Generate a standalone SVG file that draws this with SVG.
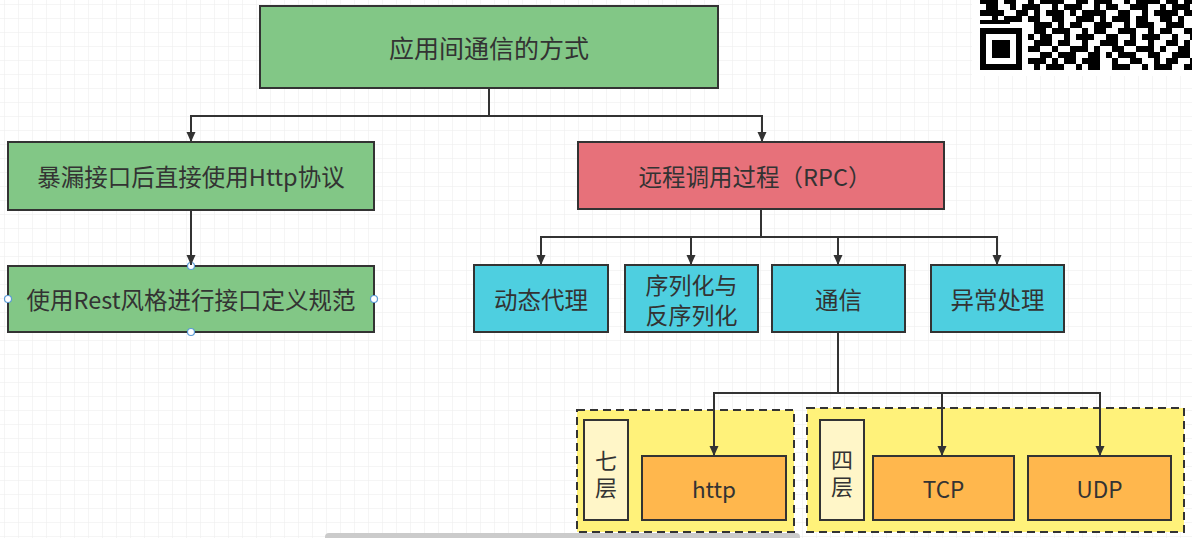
<svg xmlns="http://www.w3.org/2000/svg" width="1192" height="538" viewBox="0 0 1192 538">
<style>
.t{font-family:"Noto Sans CJK SC","Noto Sans",sans-serif;fill:#333;text-anchor:middle;dominant-baseline:central}
.n{stroke:#333;stroke-width:2}
.e{fill:none;stroke:#333;stroke-width:2}
.g{fill:#82c786}
.r{fill:#e7717a}
.b{fill:#4ecfe0}
.o{fill:#ffb74d}
.c{fill:#fff6c8}
.y{fill:#fff27a;stroke:#333;stroke-width:2;stroke-dasharray:8 5}
.h{fill:#fff;stroke:#5b9bd5;stroke-width:1.2}
</style>
<defs>
<pattern id="grid" width="14" height="14" patternUnits="userSpaceOnUse" x="4" y="4">
<path d="M0,0H14M0,0V14" fill="none" stroke="#ececec" stroke-width="1"/>
</pattern>
<marker id="arr" markerWidth="10" markerHeight="10" refX="10" refY="4.5" orient="auto" markerUnits="userSpaceOnUse">
<path d="M0,0L10,4.5L0,9z" fill="#333"/>
</marker>
</defs>
<rect width="1192" height="538" fill="#fff"/>
<rect width="1192" height="538" fill="url(#grid)"/>

<g id="qr">
<rect x="972" y="0" width="220" height="76" fill="#fff"/>
<path fill="#000" d="M980,-2h18v6h-18zM1004,-2h12v6h-12zM1028,-2h6v6h-6zM1040,-2h24v6h-24zM1076,-2h12v6h-12zM1094,-2h18v6h-18zM1124,-2h6v6h-6zM1136,-2h24v6h-24zM1166,-2h12v6h-12zM1184,-2h12v6h-12z
M986,4h12v6h-12zM1010,4h6v6h-6zM1022,4h18v6h-18zM1052,4h6v6h-6zM1064,4h18v6h-18zM1094,4h6v6h-6zM1106,4h12v6h-12zM1130,4h18v6h-18zM1160,4h6v6h-6zM1172,4h18v6h-18z
M980,10h24v6h-24zM1016,10h12v6h-12zM1034,10h6v6h-6zM1046,10h18v6h-18zM1070,10h6v6h-6zM1082,10h24v6h-24zM1118,10h12v6h-12zM1142,10h6v6h-6zM1154,10h24v6h-24zM1184,10h12v6h-12z
M992,16h6v6h-6zM1004,16h18v6h-18zM1028,16h12v6h-12zM1052,16h12v6h-12zM1076,16h18v6h-18zM1100,16h6v6h-6zM1112,16h18v6h-18zM1136,16h12v6h-12zM1160,16h12v6h-12zM1178,16h6v6h-6z
M980,20h30v4h-30zM1034,22h18v6h-18zM1058,22h6v6h-6zM1070,22h12v6h-12zM1094,22h18v6h-18zM1124,22h6v6h-6zM1136,22h18v6h-18zM1166,22h18v6h-18z
M980,28h42v6h-42zM1034,28h12v6h-12zM1052,28h18v6h-18zM1082,28h6v6h-6zM1094,28h12v6h-12zM1118,28h18v6h-18zM1148,28h6v6h-6zM1160,28h12v6h-12zM1184,28h12v6h-12z
M980,34h6v6h-6zM1016,34h6v6h-6zM1028,34h6v6h-6zM1040,34h12v6h-12zM1064,34h6v6h-6zM1076,34h18v6h-18zM1106,34h12v6h-12zM1130,34h6v6h-6zM1142,34h18v6h-18zM1172,34h6v6h-6zM1190,34h6v6h-6z
M980,40h6v6h-6zM992,40h18v6h-18zM1016,40h6v6h-6zM1034,40h18v6h-18zM1058,40h12v6h-12zM1082,40h6v6h-6zM1100,40h18v6h-18zM1124,40h12v6h-12zM1148,40h6v6h-6zM1166,40h12v6h-12zM1184,40h6v6h-6z
M980,46h6v6h-6zM992,46h18v6h-18zM1016,46h6v6h-6zM1028,46h12v6h-12zM1052,46h6v6h-6zM1070,46h18v6h-18zM1094,46h6v6h-6zM1112,46h12v6h-12zM1136,46h18v6h-18zM1160,46h6v6h-6zM1178,46h12v6h-12z
M980,52h6v6h-6zM992,52h18v6h-18zM1016,52h6v6h-6zM1040,52h12v6h-12zM1058,52h18v6h-18zM1088,52h12v6h-12zM1106,52h6v6h-6zM1118,52h18v6h-18zM1148,52h12v6h-12zM1172,52h18v6h-18z
M980,58h6v6h-6zM1016,58h6v6h-6zM1028,58h18v6h-18zM1052,58h6v6h-6zM1064,58h12v6h-12zM1082,58h18v6h-18zM1112,58h6v6h-6zM1130,58h12v6h-12zM1154,58h6v6h-6zM1166,58h12v6h-12zM1190,58h6v6h-6z
M980,64h42v6h-42zM1034,64h6v6h-6zM1046,64h18v6h-18zM1076,64h6v6h-6zM1088,64h12v6h-12zM1112,64h18v6h-18zM1142,64h6v6h-6zM1154,64h18v6h-18zM1184,64h12v6h-12z"/>
</g>

<g id="n-top"><rect class="n g" x="260" y="6" width="458" height="82"/><text class="t" x="489" y="47" font-size="25">应用间通信的方式</text></g>
<g id="n-http-direct"><rect class="n g" x="8" y="142" width="366" height="68"/><text class="t" x="191" y="176" font-size="23.5">暴漏接口后直接使用Http协议</text></g>
<g id="n-rest"><rect class="n g" x="8" y="266" width="366" height="66"/><text class="t" x="191" y="299" font-size="23.5">使用Rest风格进行接口定义规范</text>
<circle class="h" cx="191" cy="266" r="3.5"/><circle class="h" cx="8" cy="299" r="3.5"/><circle class="h" cx="374" cy="299" r="3.5"/><circle class="h" cx="191" cy="332" r="3.5"/></g>
<g id="n-rpc"><rect class="n r" x="578" y="142" width="366" height="67"/><text class="t" x="755" y="175.5" font-size="23.5">远程调用过程（RPC）</text></g>
<g id="n-proxy"><rect class="n b" x="474" y="265" width="134" height="67"/><text class="t" x="541" y="298.5" font-size="23.5">动态代理</text></g>
<g id="n-serial"><rect class="n b" x="625" y="265" width="133" height="67"/><text class="t" font-size="23"><tspan x="691.5" y="284">序列化与</tspan><tspan x="691.5" y="314">反序列化</tspan></text></g>
<g id="n-comm"><rect class="n b" x="772" y="265" width="133" height="67"/><text class="t" x="838.5" y="298.5" font-size="23.5">通信</text></g>
<g id="n-except"><rect class="n b" x="931" y="265" width="133" height="67"/><text class="t" x="997.5" y="298.5" font-size="23.5">异常处理</text></g>

<g id="g-seven"><rect class="y" x="577" y="410" width="217" height="122"/>
<rect class="n c" x="584" y="420" width="44" height="100"/><text class="t" font-size="22"><tspan x="606" y="459">七</tspan><tspan x="606" y="486">层</tspan></text>
<rect class="n o" x="642" y="456" width="144" height="64"/><text class="t" x="714" y="488" font-size="22.5">http</text></g>
<g id="g-four"><rect class="y" x="807" y="408" width="377" height="124"/>
<rect class="n c" x="820" y="420" width="44" height="100"/><text class="t" font-size="22"><tspan x="842" y="458">四</tspan><tspan x="842" y="485">层</tspan></text>
<rect class="n o" x="873" y="456" width="141" height="64"/><text class="t" x="943.5" y="488" font-size="22.5">TCP</text>
<rect class="n o" x="1028" y="456" width="143" height="64"/><text class="t" x="1099.5" y="488" font-size="22.5">UDP</text></g>

<g id="connectors">
<path class="e" d="M489,88V116H191V142" marker-end="url(#arr)"/>
<path class="e" d="M489,116H762V142" marker-end="url(#arr)"/>
<path class="e" d="M191,210V265" marker-end="url(#arr)"/>
<path class="e" d="M761,209V237H541V265" marker-end="url(#arr)"/>
<path class="e" d="M761,237H691V265" marker-end="url(#arr)"/>
<path class="e" d="M761,237H838V265" marker-end="url(#arr)"/>
<path class="e" d="M761,237H997V265" marker-end="url(#arr)"/>
<path class="e" d="M838,332V393H714V456" marker-end="url(#arr)"/>
<path class="e" d="M838,393H942V456" marker-end="url(#arr)"/>
<path class="e" d="M838,393H1100V456" marker-end="url(#arr)"/>
</g>

<rect x="325" y="533" width="475" height="8" rx="4" fill="#cbcbcb"/>
</svg>
